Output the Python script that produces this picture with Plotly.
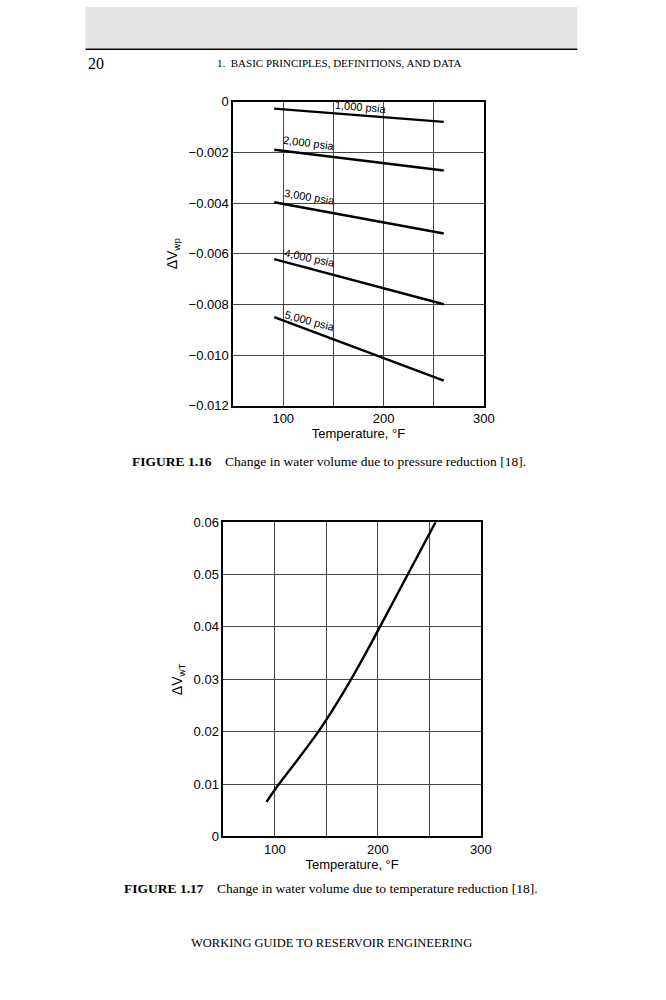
import plotly.graph_objects as go

# Figure 1.16: change in water volume due to pressure reduction
temp_p = [91, 260]
dv_1000 = [-0.00028, -0.00080]
dv_2000 = [-0.00190, -0.00272]
dv_3000 = [-0.00397, -0.00520]
dv_4000 = [-0.00621, -0.00799]
dv_5000 = [-0.00850, -0.01100]
psia_labels = ["1,000 psia", "2,000 psia", "3,000 psia", "4,000 psia", "5,000 psia"]
label_temps = [178, 126, 127, 127, 127]
label_vals = [-0.00020, -0.00165, -0.00375, -0.00618, -0.00866]
label_angles = [5, 7, 9, 12, 15]
yticks_p = [0, -0.002, -0.004, -0.006, -0.008, -0.010, -0.012]
yticktext_p = ["0", "\u22120.002", "\u22120.004", "\u22120.006", "\u22120.008", "\u22120.010", "\u22120.012"]

# Figure 1.17: change in water volume due to temperature reduction
temp_t = [92, 103, 122, 143, 155, 166, 177, 190, 202, 229, 256]
dv_t = [0.0066, 0.0097, 0.0146, 0.0202, 0.0238, 0.0273, 0.0310, 0.0356, 0.0400, 0.0500, 0.0600]
yticks_t = [0, 0.01, 0.02, 0.03, 0.04, 0.05, 0.06]
yticktext_t = ["0", "0.01", "0.02", "0.03", "0.04", "0.05", "0.06"]
xticks = [100, 200, 300]

W, H = 666, 1000
SANS = "Liberation Sans, Arial, sans-serif"
SERIF = "Liberation Serif, Times New Roman, serif"


def px(x):
    return x / W


def py(y):
    return 1 - y / H


fig = go.Figure()
for vals in [dv_1000, dv_2000, dv_3000, dv_4000, dv_5000]:
    fig.add_trace(go.Scatter(x=temp_p, y=vals, mode="lines",
                             line=dict(color="black", width=2.4),
                             xaxis="x", yaxis="y", showlegend=False))
fig.add_trace(go.Scatter(x=temp_t, y=dv_t, mode="lines", line_shape="spline",
                         line=dict(color="black", width=2.4, smoothing=1.0),
                         xaxis="x2", yaxis="y2", showlegend=False))

axis_common = dict(showline=True, linecolor="black", linewidth=1.5, mirror=True,
                   showgrid=True, gridcolor="#444", gridwidth=1, zeroline=False,
                   ticks="", tickfont=dict(family=SANS, size=13, color="black"))
title_font = dict(family=SANS, size=13, color="black")
ytitle_font = dict(family=SANS, size=14, color="black")

fig.update_layout(
    width=W, height=H, margin=dict(l=0, r=0, t=0, b=0),
    paper_bgcolor="white", plot_bgcolor="white",
    xaxis=dict(domain=[px(237), px(492)], range=[50, 300], anchor="y",
               tickvals=xticks,
               minor=dict(tickvals=[150, 250], showgrid=True, gridcolor="#444"),
               title=dict(text="Temperature, \u00b0F", standoff=2, font=title_font),
               **axis_common),
    yaxis=dict(domain=[py(405), py(96)], range=[-0.012, 0], anchor="x",
               tickvals=yticks_p, ticktext=yticktext_p,
               title=dict(text="\u0394V<sub>wp</sub>", standoff=8, font=ytitle_font),
               **axis_common),
    xaxis2=dict(domain=[px(227), px(489)], range=[50, 300], anchor="y2",
                tickvals=xticks,
                minor=dict(tickvals=[150, 250], showgrid=True, gridcolor="#444"),
                title=dict(text="Temperature, \u00b0F", standoff=2, font=title_font),
                **axis_common),
    yaxis2=dict(domain=[py(842), py(523)], range=[0, 0.06], anchor="x2",
                tickvals=yticks_t, ticktext=yticktext_t,
                title=dict(text="\u0394V<sub>wT</sub>", standoff=8, font=ytitle_font),
                **axis_common),
)

for text, tx, ty, ang in zip(psia_labels, label_temps, label_vals, label_angles):
    fig.add_annotation(x=tx, y=ty, xref="x", yref="y", text=text, showarrow=False,
                       textangle=ang, font=dict(family=SANS, size=11, color="black"))

# page furniture
fig.add_shape(type="rect", xref="paper", yref="paper", x0=px(87), x1=px(587),
              y0=py(42), y1=1, fillcolor="#e4e4e4", line_width=0, layer="below")
fig.add_shape(type="line", xref="paper", yref="paper", x0=px(87), x1=px(587),
              y0=py(43), y1=py(43), line=dict(color="black", width=1.5))

page_texts = [
    ("20", 87, 57, "left", 16),
    ("1.  BASIC PRINCIPLES, DEFINITIONS, AND DATA", 345, 57, "center", 11),
    ("<b>FIGURE 1.16</b>    Change in water volume due to pressure reduction [18].", 335, 461, "center", 13.5),
    ("<b>FIGURE 1.17</b>    Change in water volume due to temperature reduction [18].", 337, 895, "center", 13.5),
    ("WORKING GUIDE TO RESERVOIR ENGINEERING", 337, 950, "center", 12.5),
]
for text, x, y, anchor, size in page_texts:
    fig.add_annotation(x=px(x), y=py(y), xref="paper", yref="paper", text=text,
                       showarrow=False, xanchor=anchor, yanchor="middle",
                       font=dict(family=SERIF, size=size, color="black"))

# drop the default 8px body margin so the figure fills the window exactly
fig.write_html("out.html", config={"displayModeBar": False},
               post_script="document.body.style.margin='0';"
                           "document.body.style.overflow='hidden';")
